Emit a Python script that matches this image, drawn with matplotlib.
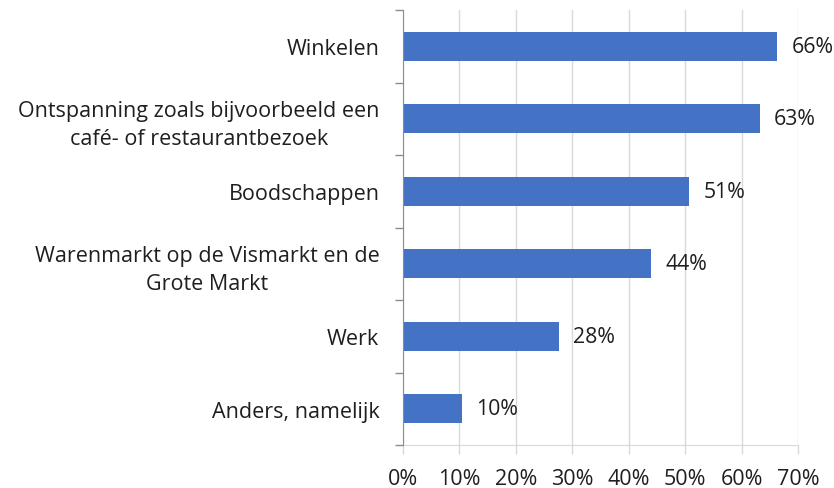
import matplotlib
matplotlib.use("Agg")
import matplotlib.pyplot as plt
import numpy as np

categories = [
    "Winkelen",
    "Ontspanning zoals bijvoorbeeld een\ncafé- of restaurantbezoek",
    "Boodschappen",
    "Warenmarkt op de Vismarkt en de\nGrote Markt",
    "Werk",
    "Anders, namelijk",
]
values = [66.3, 63.2, 50.7, 43.9, 27.6, 10.4]
xticks = [0, 10, 20, 30, 40, 50, 60, 70]

plt.rcParams['font.family'] = ['Open Sans', 'DejaVu Sans']
fig = plt.figure(figsize=(8.34, 4.89), dpi=100)
ax = fig.add_axes([403/834, 1-446/489, (798-403)/834, (446-11)/489])

txt = "#1f1f1f"
y = np.arange(len(categories))[::-1]
ax.barh(y, values, height=0.40, color="#4472C4", zorder=3)
for yi, v in zip(y, values):
    ax.annotate(f"{round(v)}%", xy=(v, yi), xytext=(10.5, 0), textcoords="offset points",
                va="center", ha="left", fontsize=15.3, color=txt)

ax.set_xlim(0, 70)
ax.set_ylim(-0.5, len(categories) - 0.5)
ax.set_xticks(xticks)
ax.set_xticklabels([f"{t}%" for t in xticks], fontsize=15.5, color=txt)
ax.set_yticks(y)
ax.set_yticklabels(categories, fontsize=15.5, color=txt, multialignment="center",
                   linespacing=1.4)
ax.set_yticks(np.arange(-0.5, len(categories)), minor=True)
ax.tick_params(axis="y", which="major", length=0, pad=17)
ax.tick_params(axis="y", which="minor", length=6, color="#8c8c8c", width=1)
ax.tick_params(axis="x", which="major", length=6.5, color="#d9d9d9", width=1, pad=10)
ax.grid(axis="x", color="#d9d9d9", linewidth=1, zorder=0)

for s in ["top", "right"]:
    ax.spines[s].set_visible(False)
ax.spines["bottom"].set_color("#d9d9d9")
ax.spines["left"].set_color("#8c8c8c")
ax.spines["left"].set_zorder(4)

fig.savefig("out.png", dpi=100)
